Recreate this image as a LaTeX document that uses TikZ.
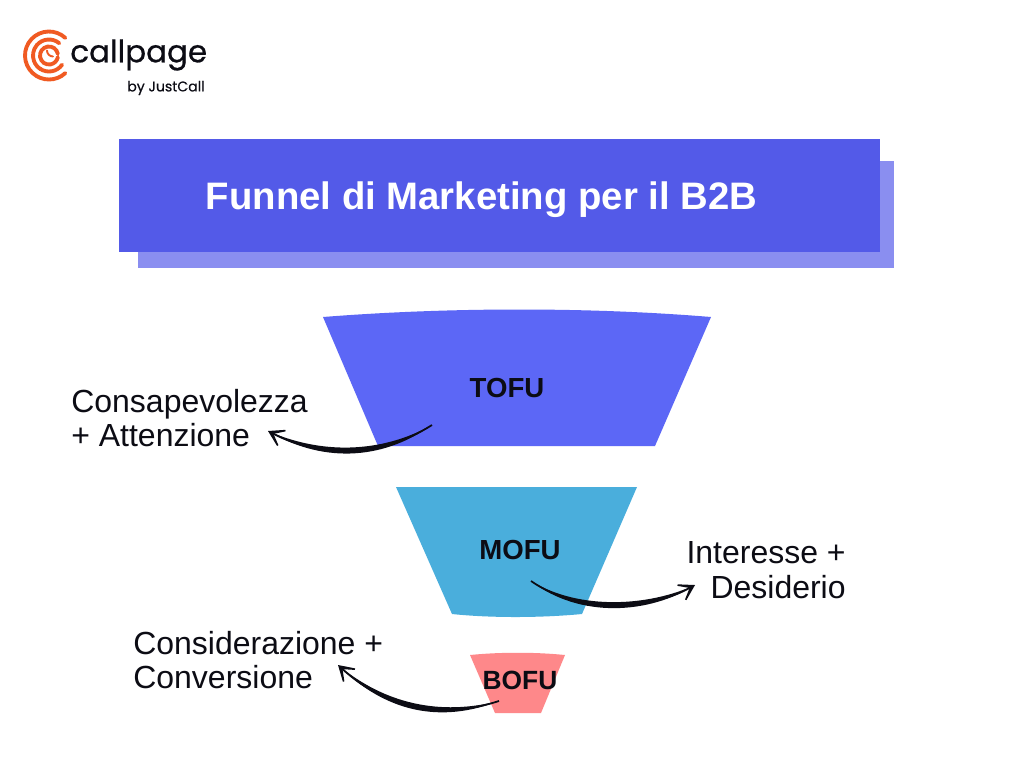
\documentclass[tikz,border=0pt]{standalone}
\usepackage{fontspec}
\setmainfont{Liberation Sans}
\newfontfamily\logofont[FakeBold=0.6]{Poppins}
\usepackage{tikz}
\usetikzlibrary{positioning,arrows.meta}
\definecolor{titre}{RGB}{83,90,232}
\definecolor{ombre}{RGB}{138,142,240}
\definecolor{tofu}{RGB}{92,103,246}
\definecolor{mofu}{RGB}{74,174,220}
\definecolor{bofu}{RGB}{254,136,138}
\definecolor{logo}{RGB}{240,90,34}
\definecolor{encre}{RGB}{12,12,20}
\tikzset{
  etage/.style={font=\fontsize{15.7}{18}\selectfont\bfseries,text=encre,inner sep=0pt},
  legende/.style={font=\fontsize{18.2}{19.6}\selectfont,text=encre,inner sep=0pt,align=left},
  fleche/.style={encre,line width=1pt,-{Stealth[length=14pt,width=17pt,inset=10.5pt]}},
  galbe/.style={fill=encre},
  anneau/.style={logo,line width=2.2pt,line cap=round}
}
\begin{document}
\begin{tikzpicture}[x=0.02cm,y=-0.02cm]
\useasboundingbox(0,0)rectangle(1024,768);
\fill[white](0,0)rectangle(1024,768);
% logo
\draw[anneau]([shift={(-47:24)}]49,55.5)arc(-47:-313:24);
\draw[anneau]([shift={(-50:16)}]49,55.5)arc(-50:-240:16);
\draw[anneau]([shift={(125:16)}]49,55.5)arc(125:35:16);
\draw[anneau]([shift={(-10:9)}]49,55.5)arc(-10:-350:9);
\draw[logo,line width=1.1pt,line cap=round](47,50.5)arc(180:90:6);
\node[anchor=west,inner sep=0pt,font=\logofont\fontsize{17.6}{20}\selectfont,text=encre](marque)at(70,55){callpage};
\node[anchor=east,inner sep=0pt,font=\logofont\fontsize{8}{8}\selectfont,text=encre](sous)at(205,88){by JustCall};
% titre
\fill[ombre](138,161)rectangle(894,268);
\fill[titre](119,139)rectangle(880,252);
\node[font=\fontsize{21.8}{24}\selectfont\bfseries,text=white,inner sep=0pt](titrage)at(481.5,200){Funnel di Marketing per il B2B};
% entonnoir
\fill[tofu](323,317)..controls(450,307)and(590,307)..(711,317)--(655,446)--(378,446)--cycle;
\fill[mofu](396,487)--(637,487)--(582,614)..controls(540,618)and(490,618)..(452,614)--cycle;
\fill[bofu](470,655)..controls(500,652)and(535,652)..(565,655)--(541,713)--(495,713)--cycle;
\node[etage](haut)at(507,388){TOFU};
\node[etage](milieu)at(520,550){MOFU};
\node[etage,font=\fontsize{15}{18}\selectfont\bfseries](bas)at(520,680){BOFU};
% legendes
\node[legende,anchor=west](conscience)at(71,418){Consapevolezza\\+ Attenzione};
\node[legende,anchor=east,align=right](interet)at(846,570){Interesse +\\Desiderio};
\node[legende,anchor=west](conversion)at(133,660){Considerazione +\\Conversione};
% fleches
\coordinate(ta)at(432,425);\coordinate(pa)at(268,431);
\coordinate(tb)at(531,581);\coordinate(pb)at(695,585);
\coordinate(tc)at(499,701);\coordinate(pc)at(338,665);
\draw[fleche](ta)..controls(380,458)and(320,458)..(pa);
\fill[galbe](ta)..controls(380,462)and(320,462)..(pa)..controls(320,454)and(380,454)..(ta);
\draw[fleche](tb)..controls(580,615)and(650,610)..(pb);
\fill[galbe](tb)..controls(580,619)and(650,614)..(pb)..controls(650,606)and(580,611)..(tb);
\draw[fleche](tc)..controls(440,720)and(385,708)..(pc);
\fill[galbe](tc)..controls(440,724)and(385,712)..(pc)..controls(385,704)and(440,716)..(tc);
\end{tikzpicture}
\end{document}
